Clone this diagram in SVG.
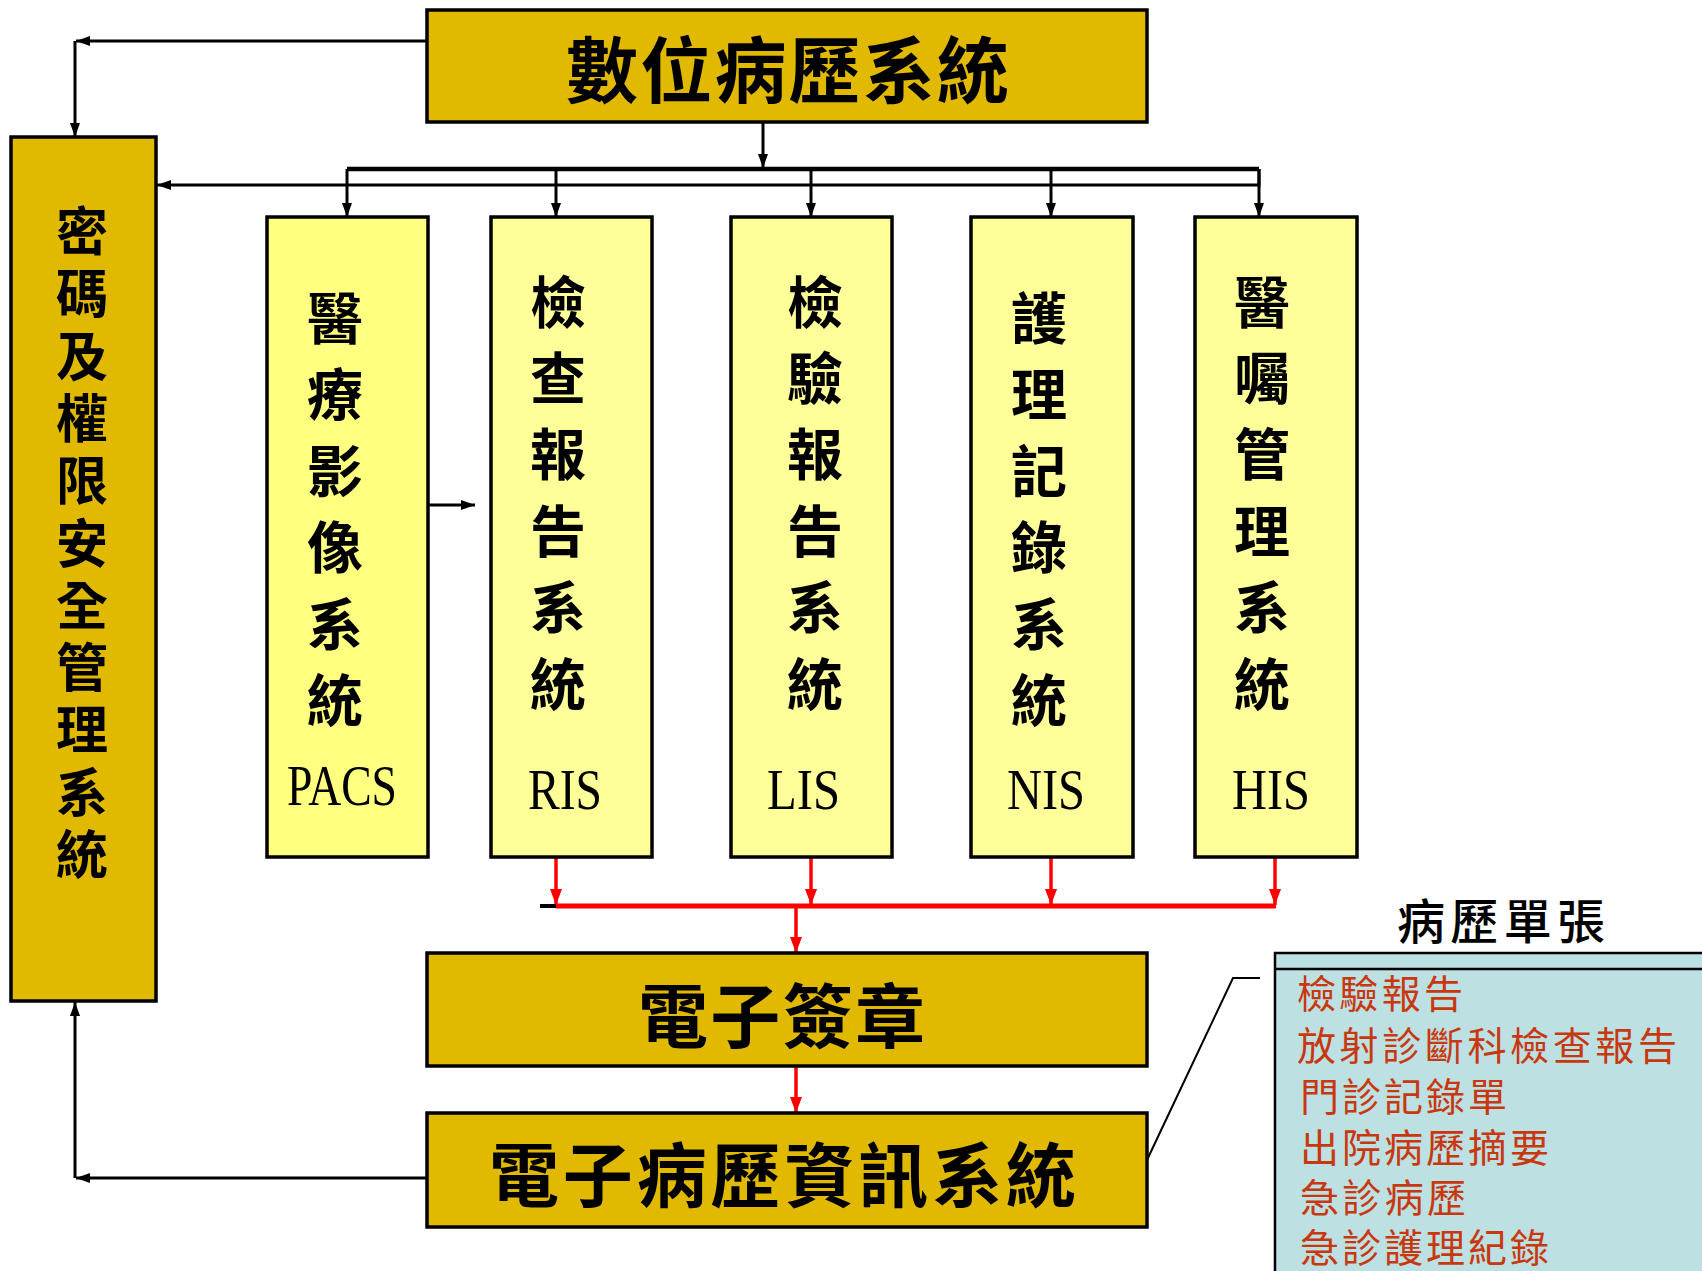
<svg xmlns="http://www.w3.org/2000/svg" width="1702" height="1271" viewBox="0 0 1702 1271">
<style>
.gold{fill:#E1B900;stroke:#000;stroke-width:3.5}
.yel{fill:#FFFF99;stroke:#000;stroke-width:3.5}
.yel2{fill:#FFFF80;stroke:#000;stroke-width:3.5}
.cjk{font-family:"Noto Sans CJK TC","Noto Sans CJK SC",sans-serif;font-weight:700;fill:#000}
.vt{font-family:"Noto Sans CJK TC","Noto Sans CJK SC",sans-serif;font-weight:700;fill:#000;font-size:56px;text-anchor:middle}
.lat{font-family:"Liberation Serif","Times New Roman",serif;font-size:58px;fill:#000}
.lst{font-family:"Noto Sans CJK TC","Noto Sans CJK SC",sans-serif;font-weight:400;fill:#C8380E;font-size:39px}
.blk{fill:none;stroke:#000;stroke-width:3}
.red{fill:none;stroke:#FF0000;stroke-width:3.5}
</style>
<defs>
<marker id="ab" markerUnits="userSpaceOnUse" markerWidth="14" markerHeight="10" viewBox="0 0 14 10" refX="14" refY="5" orient="auto">
<path d="M0,0 L14,5 L0,10 Z" fill="#000"/>
</marker>
<marker id="ar" markerUnits="userSpaceOnUse" markerWidth="16" markerHeight="12" viewBox="0 0 16 12" refX="16" refY="6" orient="auto">
<path d="M0,0 L16,6 L0,12 Z" fill="#FF0000"/>
</marker>
</defs>

<g id="connectors">
<path class="blk" d="M427,41 H76" marker-end="url(#ab)"/>
<path class="blk" d="M75,41 V137" marker-end="url(#ab)"/>
<path class="blk" d="M763,122 V168" marker-end="url(#ab)"/>
<path d="M347,169 H1259" fill="none" stroke="#000" stroke-width="4.5"/>
<path class="blk" d="M347,169 V217" marker-end="url(#ab)"/>
<path class="blk" d="M556,169 V217" marker-end="url(#ab)"/>
<path class="blk" d="M811,169 V217" marker-end="url(#ab)"/>
<path class="blk" d="M1051,169 V217" marker-end="url(#ab)"/>
<path class="blk" d="M1259,169 V217" marker-end="url(#ab)"/>
<path class="blk" d="M1259,169 V185 H157" marker-end="url(#ab)"/>
<path class="blk" d="M429,505 H475" marker-end="url(#ab)"/>
<path class="red" d="M556,858 V905" marker-end="url(#ar)"/>
<path class="red" d="M811,858 V905" marker-end="url(#ar)"/>
<path class="red" d="M1051,858 V905" marker-end="url(#ar)"/>
<path class="red" d="M1275,858 V905" marker-end="url(#ar)"/>
<path d="M540,906 H557" fill="none" stroke="#000" stroke-width="4"/>
<path d="M556,906 H1276" fill="none" stroke="#FF0000" stroke-width="5"/>
<path class="red" d="M796,906 V953" marker-end="url(#ar)"/>
<path class="red" d="M796,1066 V1113" marker-end="url(#ar)"/>
<path class="blk" d="M444,1178 H76" marker-end="url(#ab)"/>
<path class="blk" d="M75,1178 V1002" marker-end="url(#ab)"/>
<polyline points="1147,1160 1233,978 1260,978" fill="none" stroke="#000" stroke-width="2"/>
</g>

<g id="node-top">
<rect class="gold" x="427" y="10" width="720" height="112"/>
<text class="cjk" x="566" y="97" font-size="72" textLength="443" lengthAdjust="spacing">數位病歷系統</text>
</g>

<g id="node-security">
<rect class="gold" x="11" y="137" width="145" height="864"/>
<text class="vt" style="font-size:52px">
<tspan x="82" y="251">密</tspan><tspan x="82" y="313">碼</tspan><tspan x="82" y="376">及</tspan><tspan x="82" y="438">權</tspan><tspan x="82" y="500">限</tspan><tspan x="82" y="563">安</tspan><tspan x="82" y="625">全</tspan><tspan x="82" y="687">管</tspan><tspan x="82" y="749">理</tspan><tspan x="82" y="812">系</tspan><tspan x="82" y="874">統</tspan>
</text>
</g>

<g id="node-pacs">
<rect class="yel2" x="267" y="217" width="161" height="640"/>
<text class="vt"><tspan x="335" y="339">醫</tspan><tspan x="335" y="415">療</tspan><tspan x="335" y="492">影</tspan><tspan x="335" y="568">像</tspan><tspan x="335" y="645">系</tspan><tspan x="335" y="721">統</tspan></text>
<text class="lat" x="287" y="805" textLength="110" lengthAdjust="spacingAndGlyphs">PACS</text>
</g>

<g id="node-ris">
<rect class="yel" x="491" y="217" width="161" height="640"/>
<text class="vt"><tspan x="558" y="323">檢</tspan><tspan x="558" y="399">查</tspan><tspan x="558" y="475">報</tspan><tspan x="558" y="552">告</tspan><tspan x="558" y="628">系</tspan><tspan x="558" y="705">統</tspan></text>
<text class="lat" x="528" y="809" textLength="74" lengthAdjust="spacingAndGlyphs">RIS</text>
</g>

<g id="node-lis">
<rect class="yel" x="731" y="217" width="161" height="640"/>
<text class="vt"><tspan x="815" y="323">檢</tspan><tspan x="815" y="399">驗</tspan><tspan x="815" y="475">報</tspan><tspan x="815" y="552">告</tspan><tspan x="815" y="628">系</tspan><tspan x="815" y="705">統</tspan></text>
<text class="lat" x="767" y="809" textLength="73" lengthAdjust="spacingAndGlyphs">LIS</text>
</g>

<g id="node-nis">
<rect class="yel" x="971" y="217" width="162" height="640"/>
<text class="vt"><tspan x="1039" y="339">護</tspan><tspan x="1039" y="415">理</tspan><tspan x="1039" y="492">記</tspan><tspan x="1039" y="568">錄</tspan><tspan x="1039" y="645">系</tspan><tspan x="1039" y="721">統</tspan></text>
<text class="lat" x="1007" y="809" textLength="78" lengthAdjust="spacingAndGlyphs">NIS</text>
</g>

<g id="node-his">
<rect class="yel" x="1195" y="217" width="162" height="640"/>
<text class="vt"><tspan x="1262" y="323">醫</tspan><tspan x="1262" y="399">囑</tspan><tspan x="1262" y="475">管</tspan><tspan x="1262" y="552">理</tspan><tspan x="1262" y="628">系</tspan><tspan x="1262" y="705">統</tspan></text>
<text class="lat" x="1232" y="809" textLength="78" lengthAdjust="spacingAndGlyphs">HIS</text>
</g>

<g id="node-signature">
<rect class="gold" x="427" y="953" width="720" height="113"/>
<text class="cjk" x="638" y="1043" font-size="70" textLength="287" lengthAdjust="spacing">電子簽章</text>
</g>

<g id="node-emr">
<rect class="gold" x="427" y="1113" width="720" height="114"/>
<text class="cjk" x="489" y="1202" font-size="70" textLength="587" lengthAdjust="spacing">電子病歷資訊系統</text>
</g>

<g id="node-forms">
<text class="cjk" x="1397" y="939" font-size="48" textLength="208" lengthAdjust="spacing" style="font-weight:500">病歷單張</text>
<rect x="1275" y="953" width="450" height="330" fill="#BDE0E3" stroke="#000" stroke-width="2.5"/>
<line x1="1275" y1="969" x2="1702" y2="969" stroke="#000" stroke-width="2.5"/>
<text class="lst" x="1297" y="1008" textLength="166" lengthAdjust="spacing">檢驗報告</text>
<text class="lst" x="1297" y="1060" textLength="380" lengthAdjust="spacing">放射診斷科檢查報告</text>
<text class="lst" x="1300" y="1111" textLength="207" lengthAdjust="spacing">門診記錄單</text>
<text class="lst" x="1300" y="1162" textLength="249" lengthAdjust="spacing">出院病歷摘要</text>
<text class="lst" x="1300" y="1212" textLength="166" lengthAdjust="spacing">急診病歷</text>
<text class="lst" x="1300" y="1262" textLength="249" lengthAdjust="spacing">急診護理紀錄</text>
</g>
</svg>
